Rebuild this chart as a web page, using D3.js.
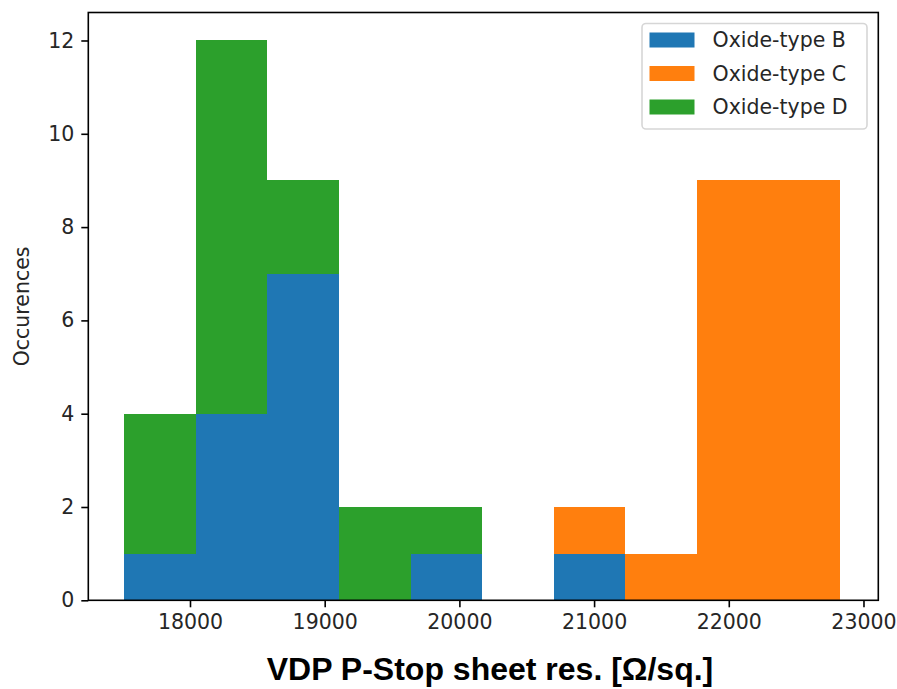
<!DOCTYPE html>
<html>
<head>
<meta charset="utf-8">
<script src="https://cdn.jsdelivr.net/npm/d3@7"></script>
<style>
  html, body { margin: 0; padding: 0; background: #fff; }
  svg { display: block; }
</style>
</head>
<body>
<svg id="chart" width="897" height="689"></svg>
<script>
// Histogram bin edges (sheet resistance, Ω/sq.)
const binEdges = [17512, 18043.5, 18575, 19106.5, 19638, 20169.5, 20701, 21232.5, 21764, 22295.5, 22827];
// Counts per bin for each oxide type (stacked B, C, D)
const seriesNames = ["Oxide-type B", "Oxide-type C", "Oxide-type D"];
const countsB = [1, 4, 7, 0, 1, 0, 1, 0, 0, 0];
const countsC = [0, 0, 0, 0, 0, 0, 1, 1, 9, 9];
const countsD = [3, 8, 2, 2, 1, 0, 0, 0, 0, 0];
const colors = ["#1f77b4", "#ff7f0e", "#2ca02c"];
const xTicks = [18000, 19000, 20000, 21000, 22000, 23000];
const yTicks = [0, 2, 4, 6, 8, 10, 12];

const svg = d3.select("#chart");
const plot = { left: 88.3, right: 878.3, top: 12.5, bottom: 600.3 };

const x = d3.scaleLinear().domain([17245, 23110]).range([plot.left, plot.right]);
const y = d3.scaleLinear().domain([0, 12.6]).range([plot.bottom, plot.top]);

const rows = binEdges.slice(0, -1).map((e, i) => ({
  x0: e, x1: binEdges[i + 1],
  "Oxide-type B": countsB[i], "Oxide-type C": countsC[i], "Oxide-type D": countsD[i]
}));
const stacked = d3.stack().keys(seriesNames)(rows);

const g = svg.append("g");
stacked.forEach((layer, si) => {
  g.selectAll(null).data(layer.filter(d => d[1] > d[0])).enter().append("rect")
    .attr("x", d => x(d.data.x0))
    .attr("width", d => x(d.data.x1) - x(d.data.x0))
    .attr("y", d => y(d[1]))
    .attr("height", d => y(d[0]) - y(d[1]))
    .attr("fill", colors[si])
    .attr("shape-rendering", "crispEdges");
});

const tickFont = "DejaVu Sans, sans-serif";
const xAxis = svg.append("g").attr("transform", `translate(0,${plot.bottom})`)
  .call(d3.axisBottom(x).tickValues(xTicks).tickFormat(d3.format("d")).tickSizeOuter(0).tickSize(7).tickPadding(7));
const yAxis = svg.append("g").attr("transform", `translate(${plot.left},0)`)
  .call(d3.axisLeft(y).tickValues(yTicks).tickFormat(d3.format("d")).tickSizeOuter(0).tickSize(7).tickPadding(7));
[xAxis, yAxis].forEach(a => {
  a.select(".domain").remove();
  a.selectAll("line").attr("stroke", "#000").attr("stroke-width", 1.6);
  a.selectAll("text").attr("font-family", tickFont).attr("font-size", 20.5).attr("fill", "#262626");
});

// Frame
svg.append("rect")
  .attr("x", plot.left).attr("y", plot.top)
  .attr("width", plot.right - plot.left).attr("height", plot.bottom - plot.top)
  .attr("fill", "none").attr("stroke", "#000").attr("stroke-width", 1.6);

// Axis titles
svg.append("text")
  .attr("transform", `translate(29,${(plot.top + plot.bottom) / 2}) rotate(-90)`)
  .attr("text-anchor", "middle")
  .attr("font-family", tickFont).attr("font-size", 20.5).attr("fill", "#262626")
  .text("Occurences");

svg.append("text")
  .attr("x", 490).attr("y", 680)
  .attr("text-anchor", "middle")
  .attr("font-family", "Liberation Sans, Arial, sans-serif").attr("font-weight", "bold")
  .attr("font-size", 32).attr("fill", "#000")
  .text("VDP P-Stop sheet res. [Ω/sq.]");

// Legend
const lg = svg.append("g");
lg.append("rect").attr("x", 642).attr("y", 23.5).attr("width", 225).attr("height", 105.5)
  .attr("rx", 4).attr("fill", "#fff").attr("fill-opacity", 0.8)
  .attr("stroke", "#d6d6d6").attr("stroke-width", 1.6);
seriesNames.forEach((name, i) => {
  const cy = 40 + i * 33.5;
  lg.append("rect").attr("x", 649.5).attr("y", cy - 7.5).attr("width", 45).attr("height", 15)
    .attr("fill", colors[i]);
  lg.append("text").attr("x", 712.5).attr("y", cy).attr("dy", "0.36em")
    .attr("font-family", tickFont).attr("font-size", 20.5).attr("fill", "#262626")
    .text(name);
});
</script>
</body>
</html>
